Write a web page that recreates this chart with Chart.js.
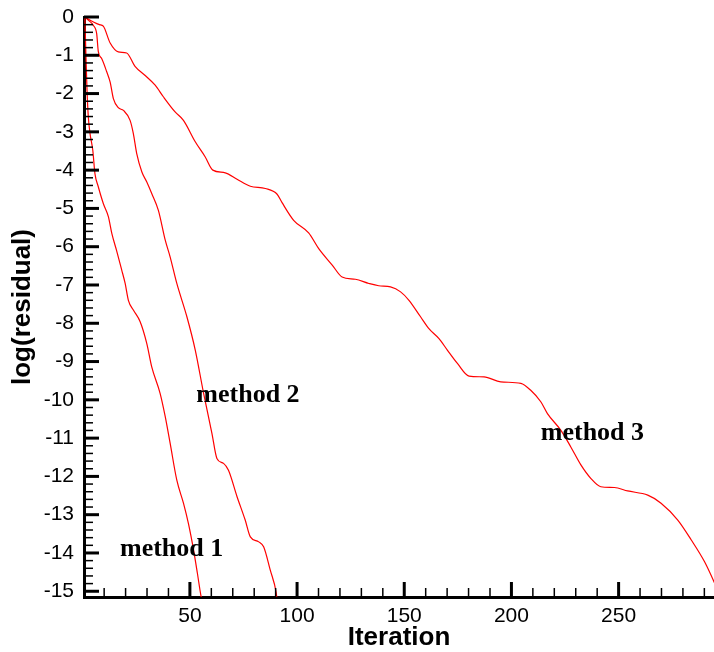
<!DOCTYPE html>
<html>
<head>
<meta charset="utf-8">
<script src="https://cdn.jsdelivr.net/npm/chart.js@4.4.1/dist/chart.umd.min.js"></script>
<style>
  html, body { margin: 0; padding: 0; background: #fff; }
  #wrap { width: 714px; height: 652px; }
</style>
</head>
<body>
<div id="wrap"><canvas id="residualChart" width="714" height="652"></canvas></div>
<script>
// convergence history
const m1Iter = [1, 1.5, 2, 2.6, 3.4, 4.7, 5.7, 7.3, 9.6, 12, 13.6, 15.9, 18.2, 19.8, 21.3, 23.7, 26.8, 29.9, 32.2, 36.1, 38.5, 40.8, 43.9, 47, 49.3, 51.7, 53.5, 55.1, 55.5];
const m1Res = [0, -1.0, -1.9, -2.6, -3.04, -3.48, -4.09, -4.44, -4.87, -5.22, -5.66, -6.12, -6.61, -6.96, -7.4, -7.66, -7.96, -8.53, -9.14, -9.83, -10.44, -11.14, -12.1, -12.7, -13.23, -13.92, -14.53, -15.1, -15.2];

const m2Iter = [1, 3, 5, 6.5, 7.3, 8.9, 11.2, 12.8, 14.3, 16.6, 19, 22.1, 23.6, 25.2, 27.6, 29.9, 32.2, 35.3, 38.5, 40.8, 43.9, 48.6, 52.5, 56.4, 60.3, 62.6, 65.7, 68, 72, 75.8, 78.2, 82.1, 84.4, 87.5, 90.3, 90.6];
const m2Res = [0, -0.1, -0.22, -0.43, -0.91, -1.09, -1.43, -1.7, -2.13, -2.37, -2.44, -2.7, -3.04, -3.57, -4.05, -4.31, -4.61, -5.05, -5.83, -6.27, -6.96, -7.83, -8.7, -9.83, -10.88, -11.53, -11.66, -11.84, -12.53, -13.14, -13.58, -13.71, -13.84, -14.45, -15.05, -15.2];

const m3Iter = [1, 5, 7.8, 9.6, 12.8, 16.6, 20.5, 24.4, 29, 33.8, 37.7, 43.1, 47, 52.5, 57.1, 60.7, 66.5, 72, 78.2, 85.2, 90.7, 93, 98.4, 105.4, 110.1, 116.4, 121, 127.2, 133.5, 138.1, 143.6, 148.3, 152.2, 157.6, 161.5, 166.2, 170.1, 174.8, 180.2, 187.2, 195, 204.4, 209, 213.7, 216.8, 223, 227.7, 232.4, 237, 241.7, 248, 254.2, 263.6, 269.8, 277.6, 283.9, 290.1, 294.8, 296];
const m3Res = [0, -0.13, -0.2, -0.24, -0.68, -0.91, -0.94, -1.29, -1.52, -1.78, -2.09, -2.48, -2.7, -3.26, -3.65, -4.0, -4.07, -4.24, -4.42, -4.48, -4.63, -4.85, -5.31, -5.64, -6.05, -6.48, -6.79, -6.85, -6.96, -7.02, -7.05, -7.18, -7.4, -7.83, -8.14, -8.4, -8.7, -9.05, -9.38, -9.4, -9.53, -9.57, -9.75, -10.05, -10.36, -10.79, -11.23, -11.7, -12.05, -12.27, -12.29, -12.38, -12.49, -12.7, -13.14, -13.66, -14.23, -14.79, -14.95];

const xTicks = [50, 100, 150, 200, 250];
const yTicks = [0, -1, -2, -3, -4, -5, -6, -7, -8, -9, -10, -11, -12, -13, -14, -15];

const labelText = ['method 1', 'method 2', 'method 3'];
const labelIter = [17.4, 53.0, 213.7];
const labelRes = [-14.08, -10.05, -11.05];

function toPoints(xs, ys) {
  return xs.map((x, i) => ({ x: x, y: ys[i] }));
}

// Tecplot style inward tick marks, major + minor
const inwardTicks = {
  id: 'inwardTicks',
  afterDraw(chart) {
    const { ctx, chartArea, scales } = chart;
    const xs = scales.x, ys = scales.y;
    ctx.save();
    ctx.strokeStyle = '#000';
    for (let v = 10; v <= 290; v += 10) {
      const px = xs.getPixelForValue(v);
      if (px < chartArea.left || px > chartArea.right) continue;
      const major = v % 50 === 0;
      ctx.lineWidth = major ? 3 : 1.5;
      ctx.beginPath();
      ctx.moveTo(px, chartArea.bottom);
      ctx.lineTo(px, chartArea.bottom - (major ? 15 : 9));
      ctx.stroke();
    }
    for (let k = 0; k <= 75; k++) {
      const v = -k * 0.2;
      const py = ys.getPixelForValue(v);
      if (py > chartArea.bottom) continue;
      const major = k % 5 === 0;
      ctx.lineWidth = major ? 3 : 1.5;
      ctx.beginPath();
      ctx.moveTo(chartArea.left, py);
      ctx.lineTo(chartArea.left + (major ? 15 : 9), py);
      ctx.stroke();
    }
    ctx.restore();
  }
};

const curveLabels = {
  id: 'curveLabels',
  afterDatasetsDraw(chart) {
    const { ctx, scales } = chart;
    ctx.save();
    ctx.font = 'bold 26px "Liberation Serif", "Times New Roman", serif';
    ctx.fillStyle = '#000';
    ctx.textAlign = 'left';
    ctx.textBaseline = 'alphabetic';
    labelText.forEach((t, i) => {
      ctx.fillText(t, scales.x.getPixelForValue(labelIter[i]), scales.y.getPixelForValue(labelRes[i]));
    });
    ctx.restore();
  }
};

const lineStyle = {
  borderColor: '#ff0000',
  borderWidth: 1.2,
  pointRadius: 0,
  showLine: true,
  fill: false,
  cubicInterpolationMode: 'monotone'
};

new Chart(document.getElementById('residualChart'), {
  type: 'scatter',
  data: {
    datasets: [
      { label: 'method 1', data: toPoints(m1Iter, m1Res), ...lineStyle },
      { label: 'method 2', data: toPoints(m2Iter, m2Res), ...lineStyle },
      { label: 'method 3', data: toPoints(m3Iter, m3Res), ...lineStyle }
    ]
  },
  options: {
    responsive: false,
    animation: false,
    devicePixelRatio: 1,
    layout: { padding: { top: 17, right: 0, bottom: 0, left: 0 } },
    plugins: {
      legend: { display: false },
      tooltip: { enabled: false }
    },
    scales: {
      x: {
        type: 'linear',
        position: 'bottom',
        min: 0.6,
        max: 294.5,
        afterFit: s => { s.height = 55; s.paddingLeft = 0; s.paddingRight = 0; },
        afterBuildTicks: s => { s.ticks = xTicks.map(v => ({ value: v })); },
        grid: { display: false, drawTicks: false },
        border: { display: true, width: 3, color: '#000' },
        ticks: {
          color: '#000',
          padding: 7,
          maxRotation: 0,
          font: { family: '"Liberation Sans", Arial, sans-serif', size: 21 }
        },
        title: {
          display: true,
          text: 'Iteration',
          color: '#000',
          padding: { top: 0, bottom: 1 },
          font: { family: '"Liberation Sans", Arial, sans-serif', size: 26, weight: 'bold', lineHeight: 1 }
        }
      },
      y: {
        type: 'linear',
        min: -15.15,
        max: 0,
        afterFit: s => { s.width = 84; s.paddingTop = 0; s.paddingBottom = 0; },
        afterBuildTicks: s => { s.ticks = yTicks.map(v => ({ value: v })); },
        grid: { display: false, drawTicks: false },
        border: { display: true, width: 3, color: '#000' },
        ticks: {
          color: '#000',
          padding: 10,
          font: { family: '"Liberation Sans", Arial, sans-serif', size: 21 }
        },
        title: {
          display: true,
          text: 'log(residual)',
          color: '#000',
          padding: { top: 10, bottom: 0 },
          font: { family: '"Liberation Sans", Arial, sans-serif', size: 26, weight: 'bold', lineHeight: 1 }
        }
      }
    }
  },
  plugins: [inwardTicks, curveLabels]
});
</script>
</body>
</html>
